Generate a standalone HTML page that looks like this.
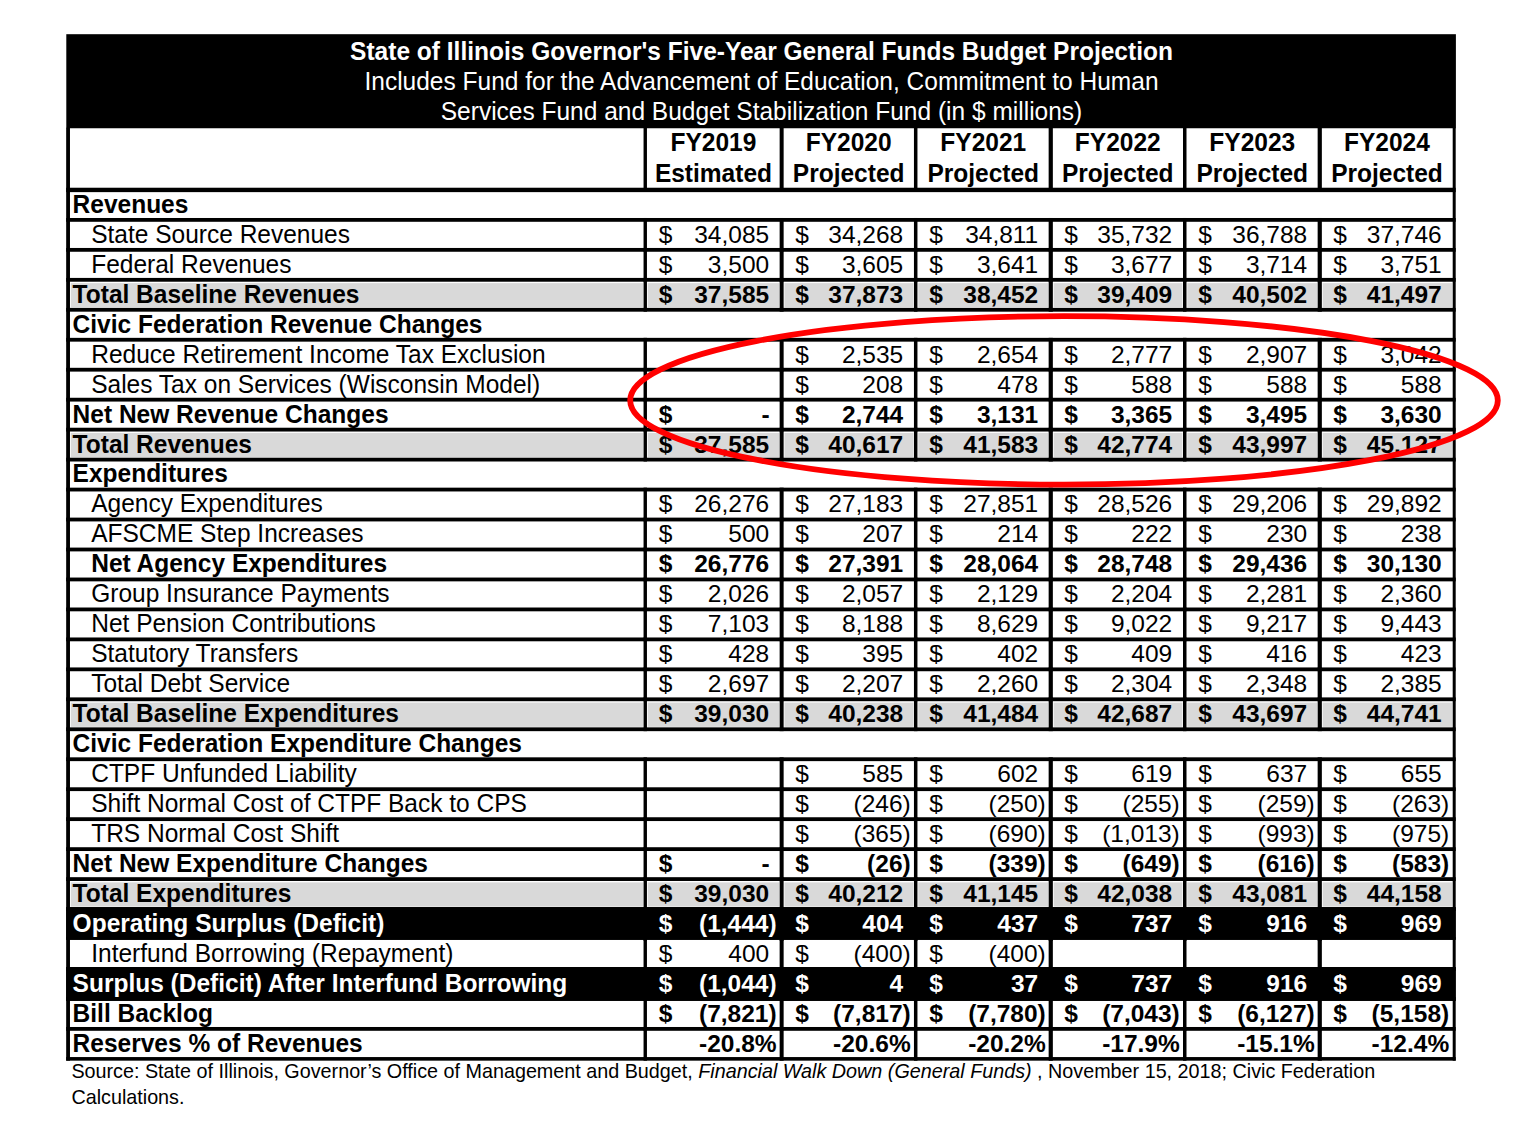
<!DOCTYPE html>
<html><head><meta charset="utf-8"><title>State of Illinois Governor's Five-Year General Funds Budget Projection</title>
<style>html,body{margin:0;padding:0;background:#fff;}body{width:1521px;height:1125px;overflow:hidden;}svg{display:block;}
text{font-family:"Liberation Sans",Arial,sans-serif;}</style></head>
<body>
<svg width="1521" height="1125" viewBox="0 0 1521 1125" font-family="Liberation Sans, Arial, sans-serif" font-size="24.52"><rect x="66.30" y="34.20" width="1389.60" height="94.05" fill="#000"/>
<rect x="643.55" y="127.75" width="3.40" height="60.78" fill="#000"/>
<rect x="779.64" y="127.75" width="4.00" height="60.78" fill="#000"/>
<rect x="913.95" y="127.75" width="3.50" height="60.78" fill="#000"/>
<rect x="1048.65" y="127.75" width="4.20" height="60.78" fill="#000"/>
<rect x="1183.00" y="127.75" width="3.50" height="60.78" fill="#000"/>
<rect x="1317.65" y="127.75" width="4.20" height="60.78" fill="#000"/>
<rect x="70.77" y="283.12" width="572.18" height="24.26" fill="#d9d9d9"/>
<rect x="647.75" y="283.12" width="131.29" height="24.26" fill="#d9d9d9"/>
<rect x="784.44" y="283.12" width="128.91" height="24.26" fill="#d9d9d9"/>
<rect x="918.25" y="283.12" width="129.80" height="24.26" fill="#d9d9d9"/>
<rect x="1053.65" y="283.12" width="128.75" height="24.26" fill="#d9d9d9"/>
<rect x="1187.30" y="283.12" width="129.75" height="24.26" fill="#d9d9d9"/>
<rect x="1322.65" y="283.12" width="129.45" height="24.26" fill="#d9d9d9"/>
<rect x="70.77" y="432.93" width="572.18" height="24.26" fill="#d9d9d9"/>
<rect x="647.75" y="432.93" width="131.29" height="24.26" fill="#d9d9d9"/>
<rect x="784.44" y="432.93" width="128.91" height="24.26" fill="#d9d9d9"/>
<rect x="918.25" y="432.93" width="129.80" height="24.26" fill="#d9d9d9"/>
<rect x="1053.65" y="432.93" width="128.75" height="24.26" fill="#d9d9d9"/>
<rect x="1187.30" y="432.93" width="129.75" height="24.26" fill="#d9d9d9"/>
<rect x="1322.65" y="432.93" width="129.45" height="24.26" fill="#d9d9d9"/>
<rect x="70.77" y="702.60" width="572.18" height="24.26" fill="#d9d9d9"/>
<rect x="647.75" y="702.60" width="131.29" height="24.26" fill="#d9d9d9"/>
<rect x="784.44" y="702.60" width="128.91" height="24.26" fill="#d9d9d9"/>
<rect x="918.25" y="702.60" width="129.80" height="24.26" fill="#d9d9d9"/>
<rect x="1053.65" y="702.60" width="128.75" height="24.26" fill="#d9d9d9"/>
<rect x="1187.30" y="702.60" width="129.75" height="24.26" fill="#d9d9d9"/>
<rect x="1322.65" y="702.60" width="129.45" height="24.26" fill="#d9d9d9"/>
<rect x="70.77" y="882.38" width="572.18" height="24.26" fill="#d9d9d9"/>
<rect x="647.75" y="882.38" width="131.29" height="24.26" fill="#d9d9d9"/>
<rect x="784.44" y="882.38" width="128.91" height="24.26" fill="#d9d9d9"/>
<rect x="918.25" y="882.38" width="129.80" height="24.26" fill="#d9d9d9"/>
<rect x="1053.65" y="882.38" width="128.75" height="24.26" fill="#d9d9d9"/>
<rect x="1187.30" y="882.38" width="129.75" height="24.26" fill="#d9d9d9"/>
<rect x="1322.65" y="882.38" width="129.45" height="24.26" fill="#d9d9d9"/>
<rect x="66.17" y="907.14" width="1389.53" height="32.66" fill="#000"/>
<rect x="66.17" y="967.07" width="1389.53" height="33.76" fill="#000"/>
<rect x="66.17" y="187.73" width="1389.53" height="4.40" fill="#000"/>
<rect x="66.17" y="217.99" width="1389.53" height="3.80" fill="#000"/>
<rect x="66.17" y="247.96" width="1389.53" height="3.80" fill="#000"/>
<rect x="66.17" y="277.92" width="1389.53" height="3.80" fill="#000"/>
<rect x="66.17" y="307.88" width="1389.53" height="3.80" fill="#000"/>
<rect x="66.17" y="337.85" width="1389.53" height="3.80" fill="#000"/>
<rect x="66.17" y="367.81" width="1389.53" height="3.80" fill="#000"/>
<rect x="66.17" y="397.77" width="1389.53" height="3.80" fill="#000"/>
<rect x="66.17" y="427.73" width="1389.53" height="3.80" fill="#000"/>
<rect x="66.17" y="457.70" width="1389.53" height="3.80" fill="#000"/>
<rect x="66.17" y="487.66" width="1389.53" height="3.80" fill="#000"/>
<rect x="66.17" y="517.62" width="1389.53" height="3.80" fill="#000"/>
<rect x="66.17" y="547.59" width="1389.53" height="3.80" fill="#000"/>
<rect x="66.17" y="577.55" width="1389.53" height="3.80" fill="#000"/>
<rect x="66.17" y="607.51" width="1389.53" height="3.80" fill="#000"/>
<rect x="66.17" y="637.48" width="1389.53" height="3.80" fill="#000"/>
<rect x="66.17" y="667.44" width="1389.53" height="3.80" fill="#000"/>
<rect x="66.17" y="697.40" width="1389.53" height="3.80" fill="#000"/>
<rect x="66.17" y="727.36" width="1389.53" height="3.80" fill="#000"/>
<rect x="66.17" y="757.33" width="1389.53" height="3.80" fill="#000"/>
<rect x="66.17" y="787.29" width="1389.53" height="3.80" fill="#000"/>
<rect x="66.17" y="817.25" width="1389.53" height="3.80" fill="#000"/>
<rect x="66.17" y="847.22" width="1389.53" height="3.80" fill="#000"/>
<rect x="66.17" y="877.18" width="1389.53" height="3.80" fill="#000"/>
<rect x="66.17" y="907.14" width="1389.53" height="3.80" fill="#000"/>
<rect x="66.17" y="937.00" width="1389.53" height="2.80" fill="#000"/>
<rect x="66.17" y="967.07" width="1389.53" height="3.80" fill="#000"/>
<rect x="66.17" y="997.03" width="1389.53" height="3.80" fill="#000"/>
<rect x="66.17" y="1026.99" width="1389.53" height="3.80" fill="#000"/>
<rect x="66.17" y="1057.06" width="1389.53" height="3.60" fill="#000"/>
<rect x="66.17" y="127.75" width="3.80" height="932.91" fill="#000"/>
<rect x="1452.70" y="127.75" width="3.00" height="932.91" fill="#000"/>
<rect x="643.55" y="217.99" width="3.40" height="33.76" fill="#000"/>
<rect x="779.64" y="217.99" width="4.00" height="33.76" fill="#000"/>
<rect x="913.95" y="217.99" width="3.50" height="33.76" fill="#000"/>
<rect x="1048.65" y="217.99" width="4.20" height="33.76" fill="#000"/>
<rect x="1183.00" y="217.99" width="3.50" height="33.76" fill="#000"/>
<rect x="1317.65" y="217.99" width="4.20" height="33.76" fill="#000"/>
<rect x="643.55" y="247.96" width="3.40" height="33.76" fill="#000"/>
<rect x="779.64" y="247.96" width="4.00" height="33.76" fill="#000"/>
<rect x="913.95" y="247.96" width="3.50" height="33.76" fill="#000"/>
<rect x="1048.65" y="247.96" width="4.20" height="33.76" fill="#000"/>
<rect x="1183.00" y="247.96" width="3.50" height="33.76" fill="#000"/>
<rect x="1317.65" y="247.96" width="4.20" height="33.76" fill="#000"/>
<rect x="643.55" y="277.92" width="3.40" height="33.76" fill="#000"/>
<rect x="779.64" y="277.92" width="4.00" height="33.76" fill="#000"/>
<rect x="913.95" y="277.92" width="3.50" height="33.76" fill="#000"/>
<rect x="1048.65" y="277.92" width="4.20" height="33.76" fill="#000"/>
<rect x="1183.00" y="277.92" width="3.50" height="33.76" fill="#000"/>
<rect x="1317.65" y="277.92" width="4.20" height="33.76" fill="#000"/>
<rect x="643.55" y="337.85" width="3.40" height="33.76" fill="#000"/>
<rect x="779.64" y="337.85" width="4.00" height="33.76" fill="#000"/>
<rect x="913.95" y="337.85" width="3.50" height="33.76" fill="#000"/>
<rect x="1048.65" y="337.85" width="4.20" height="33.76" fill="#000"/>
<rect x="1183.00" y="337.85" width="3.50" height="33.76" fill="#000"/>
<rect x="1317.65" y="337.85" width="4.20" height="33.76" fill="#000"/>
<rect x="643.55" y="367.81" width="3.40" height="33.76" fill="#000"/>
<rect x="779.64" y="367.81" width="4.00" height="33.76" fill="#000"/>
<rect x="913.95" y="367.81" width="3.50" height="33.76" fill="#000"/>
<rect x="1048.65" y="367.81" width="4.20" height="33.76" fill="#000"/>
<rect x="1183.00" y="367.81" width="3.50" height="33.76" fill="#000"/>
<rect x="1317.65" y="367.81" width="4.20" height="33.76" fill="#000"/>
<rect x="643.55" y="397.77" width="3.40" height="33.76" fill="#000"/>
<rect x="779.64" y="397.77" width="4.00" height="33.76" fill="#000"/>
<rect x="913.95" y="397.77" width="3.50" height="33.76" fill="#000"/>
<rect x="1048.65" y="397.77" width="4.20" height="33.76" fill="#000"/>
<rect x="1183.00" y="397.77" width="3.50" height="33.76" fill="#000"/>
<rect x="1317.65" y="397.77" width="4.20" height="33.76" fill="#000"/>
<rect x="643.55" y="427.73" width="3.40" height="33.76" fill="#000"/>
<rect x="779.64" y="427.73" width="4.00" height="33.76" fill="#000"/>
<rect x="913.95" y="427.73" width="3.50" height="33.76" fill="#000"/>
<rect x="1048.65" y="427.73" width="4.20" height="33.76" fill="#000"/>
<rect x="1183.00" y="427.73" width="3.50" height="33.76" fill="#000"/>
<rect x="1317.65" y="427.73" width="4.20" height="33.76" fill="#000"/>
<rect x="643.55" y="487.66" width="3.40" height="33.76" fill="#000"/>
<rect x="779.64" y="487.66" width="4.00" height="33.76" fill="#000"/>
<rect x="913.95" y="487.66" width="3.50" height="33.76" fill="#000"/>
<rect x="1048.65" y="487.66" width="4.20" height="33.76" fill="#000"/>
<rect x="1183.00" y="487.66" width="3.50" height="33.76" fill="#000"/>
<rect x="1317.65" y="487.66" width="4.20" height="33.76" fill="#000"/>
<rect x="643.55" y="517.62" width="3.40" height="33.76" fill="#000"/>
<rect x="779.64" y="517.62" width="4.00" height="33.76" fill="#000"/>
<rect x="913.95" y="517.62" width="3.50" height="33.76" fill="#000"/>
<rect x="1048.65" y="517.62" width="4.20" height="33.76" fill="#000"/>
<rect x="1183.00" y="517.62" width="3.50" height="33.76" fill="#000"/>
<rect x="1317.65" y="517.62" width="4.20" height="33.76" fill="#000"/>
<rect x="643.55" y="547.59" width="3.40" height="33.76" fill="#000"/>
<rect x="779.64" y="547.59" width="4.00" height="33.76" fill="#000"/>
<rect x="913.95" y="547.59" width="3.50" height="33.76" fill="#000"/>
<rect x="1048.65" y="547.59" width="4.20" height="33.76" fill="#000"/>
<rect x="1183.00" y="547.59" width="3.50" height="33.76" fill="#000"/>
<rect x="1317.65" y="547.59" width="4.20" height="33.76" fill="#000"/>
<rect x="643.55" y="577.55" width="3.40" height="33.76" fill="#000"/>
<rect x="779.64" y="577.55" width="4.00" height="33.76" fill="#000"/>
<rect x="913.95" y="577.55" width="3.50" height="33.76" fill="#000"/>
<rect x="1048.65" y="577.55" width="4.20" height="33.76" fill="#000"/>
<rect x="1183.00" y="577.55" width="3.50" height="33.76" fill="#000"/>
<rect x="1317.65" y="577.55" width="4.20" height="33.76" fill="#000"/>
<rect x="643.55" y="607.51" width="3.40" height="33.76" fill="#000"/>
<rect x="779.64" y="607.51" width="4.00" height="33.76" fill="#000"/>
<rect x="913.95" y="607.51" width="3.50" height="33.76" fill="#000"/>
<rect x="1048.65" y="607.51" width="4.20" height="33.76" fill="#000"/>
<rect x="1183.00" y="607.51" width="3.50" height="33.76" fill="#000"/>
<rect x="1317.65" y="607.51" width="4.20" height="33.76" fill="#000"/>
<rect x="643.55" y="637.48" width="3.40" height="33.76" fill="#000"/>
<rect x="779.64" y="637.48" width="4.00" height="33.76" fill="#000"/>
<rect x="913.95" y="637.48" width="3.50" height="33.76" fill="#000"/>
<rect x="1048.65" y="637.48" width="4.20" height="33.76" fill="#000"/>
<rect x="1183.00" y="637.48" width="3.50" height="33.76" fill="#000"/>
<rect x="1317.65" y="637.48" width="4.20" height="33.76" fill="#000"/>
<rect x="643.55" y="667.44" width="3.40" height="33.76" fill="#000"/>
<rect x="779.64" y="667.44" width="4.00" height="33.76" fill="#000"/>
<rect x="913.95" y="667.44" width="3.50" height="33.76" fill="#000"/>
<rect x="1048.65" y="667.44" width="4.20" height="33.76" fill="#000"/>
<rect x="1183.00" y="667.44" width="3.50" height="33.76" fill="#000"/>
<rect x="1317.65" y="667.44" width="4.20" height="33.76" fill="#000"/>
<rect x="643.55" y="697.40" width="3.40" height="33.76" fill="#000"/>
<rect x="779.64" y="697.40" width="4.00" height="33.76" fill="#000"/>
<rect x="913.95" y="697.40" width="3.50" height="33.76" fill="#000"/>
<rect x="1048.65" y="697.40" width="4.20" height="33.76" fill="#000"/>
<rect x="1183.00" y="697.40" width="3.50" height="33.76" fill="#000"/>
<rect x="1317.65" y="697.40" width="4.20" height="33.76" fill="#000"/>
<rect x="643.55" y="757.33" width="3.40" height="33.76" fill="#000"/>
<rect x="779.64" y="757.33" width="4.00" height="33.76" fill="#000"/>
<rect x="913.95" y="757.33" width="3.50" height="33.76" fill="#000"/>
<rect x="1048.65" y="757.33" width="4.20" height="33.76" fill="#000"/>
<rect x="1183.00" y="757.33" width="3.50" height="33.76" fill="#000"/>
<rect x="1317.65" y="757.33" width="4.20" height="33.76" fill="#000"/>
<rect x="643.55" y="787.29" width="3.40" height="33.76" fill="#000"/>
<rect x="779.64" y="787.29" width="4.00" height="33.76" fill="#000"/>
<rect x="913.95" y="787.29" width="3.50" height="33.76" fill="#000"/>
<rect x="1048.65" y="787.29" width="4.20" height="33.76" fill="#000"/>
<rect x="1183.00" y="787.29" width="3.50" height="33.76" fill="#000"/>
<rect x="1317.65" y="787.29" width="4.20" height="33.76" fill="#000"/>
<rect x="643.55" y="817.25" width="3.40" height="33.76" fill="#000"/>
<rect x="779.64" y="817.25" width="4.00" height="33.76" fill="#000"/>
<rect x="913.95" y="817.25" width="3.50" height="33.76" fill="#000"/>
<rect x="1048.65" y="817.25" width="4.20" height="33.76" fill="#000"/>
<rect x="1183.00" y="817.25" width="3.50" height="33.76" fill="#000"/>
<rect x="1317.65" y="817.25" width="4.20" height="33.76" fill="#000"/>
<rect x="643.55" y="847.22" width="3.40" height="33.76" fill="#000"/>
<rect x="779.64" y="847.22" width="4.00" height="33.76" fill="#000"/>
<rect x="913.95" y="847.22" width="3.50" height="33.76" fill="#000"/>
<rect x="1048.65" y="847.22" width="4.20" height="33.76" fill="#000"/>
<rect x="1183.00" y="847.22" width="3.50" height="33.76" fill="#000"/>
<rect x="1317.65" y="847.22" width="4.20" height="33.76" fill="#000"/>
<rect x="643.55" y="877.18" width="3.40" height="33.76" fill="#000"/>
<rect x="779.64" y="877.18" width="4.00" height="33.76" fill="#000"/>
<rect x="913.95" y="877.18" width="3.50" height="33.76" fill="#000"/>
<rect x="1048.65" y="877.18" width="4.20" height="33.76" fill="#000"/>
<rect x="1183.00" y="877.18" width="3.50" height="33.76" fill="#000"/>
<rect x="1317.65" y="877.18" width="4.20" height="33.76" fill="#000"/>
<rect x="643.55" y="907.14" width="3.40" height="33.76" fill="#000"/>
<rect x="779.64" y="907.14" width="4.00" height="33.76" fill="#000"/>
<rect x="913.95" y="907.14" width="3.50" height="33.76" fill="#000"/>
<rect x="1048.65" y="907.14" width="4.20" height="33.76" fill="#000"/>
<rect x="1183.00" y="907.14" width="3.50" height="33.76" fill="#000"/>
<rect x="1317.65" y="907.14" width="4.20" height="33.76" fill="#000"/>
<rect x="643.55" y="937.11" width="3.40" height="33.76" fill="#000"/>
<rect x="779.64" y="937.11" width="4.00" height="33.76" fill="#000"/>
<rect x="913.95" y="937.11" width="3.50" height="33.76" fill="#000"/>
<rect x="1048.65" y="937.11" width="4.20" height="33.76" fill="#000"/>
<rect x="1183.00" y="937.11" width="3.50" height="33.76" fill="#000"/>
<rect x="1317.65" y="937.11" width="4.20" height="33.76" fill="#000"/>
<rect x="643.55" y="967.07" width="3.40" height="33.76" fill="#000"/>
<rect x="779.64" y="967.07" width="4.00" height="33.76" fill="#000"/>
<rect x="913.95" y="967.07" width="3.50" height="33.76" fill="#000"/>
<rect x="1048.65" y="967.07" width="4.20" height="33.76" fill="#000"/>
<rect x="1183.00" y="967.07" width="3.50" height="33.76" fill="#000"/>
<rect x="1317.65" y="967.07" width="4.20" height="33.76" fill="#000"/>
<rect x="643.55" y="997.03" width="3.40" height="33.76" fill="#000"/>
<rect x="779.64" y="997.03" width="4.00" height="33.76" fill="#000"/>
<rect x="913.95" y="997.03" width="3.50" height="33.76" fill="#000"/>
<rect x="1048.65" y="997.03" width="4.20" height="33.76" fill="#000"/>
<rect x="1183.00" y="997.03" width="3.50" height="33.76" fill="#000"/>
<rect x="1317.65" y="997.03" width="4.20" height="33.76" fill="#000"/>
<rect x="643.55" y="1026.99" width="3.40" height="33.76" fill="#000"/>
<rect x="779.64" y="1026.99" width="4.00" height="33.76" fill="#000"/>
<rect x="913.95" y="1026.99" width="3.50" height="33.76" fill="#000"/>
<rect x="1048.65" y="1026.99" width="4.20" height="33.76" fill="#000"/>
<rect x="1183.00" y="1026.99" width="3.50" height="33.76" fill="#000"/>
<rect x="1317.65" y="1026.99" width="4.20" height="33.76" fill="#000"/>
<text transform="matrix(1 0 0 1.015 761.50 60.00)" font-weight="bold" text-anchor="middle" fill="#fff">State of Illinois Governor's Five-Year General Funds Budget Projection</text>
<text transform="matrix(1 0 0 1.015 761.50 90.00)" text-anchor="middle" fill="#fff">Includes Fund for the Advancement of Education, Commitment to Human</text>
<text transform="matrix(1 0 0 1.015 761.50 120.00)" text-anchor="middle" fill="#fff">Services Fund and Budget Stabilization Fund (in $ millions)</text>
<text transform="matrix(1 0 0 1.015 713.44 151.00)" font-weight="bold" text-anchor="middle">FY2019</text>
<text transform="matrix(1 0 0 1.015 713.44 182.00)" font-weight="bold" text-anchor="middle">Estimated</text>
<text transform="matrix(1 0 0 1.015 848.67 151.00)" font-weight="bold" text-anchor="middle">FY2020</text>
<text transform="matrix(1 0 0 1.015 848.67 182.00)" font-weight="bold" text-anchor="middle">Projected</text>
<text transform="matrix(1 0 0 1.015 983.23 151.00)" font-weight="bold" text-anchor="middle">FY2021</text>
<text transform="matrix(1 0 0 1.015 983.23 182.00)" font-weight="bold" text-anchor="middle">Projected</text>
<text transform="matrix(1 0 0 1.015 1117.75 151.00)" font-weight="bold" text-anchor="middle">FY2022</text>
<text transform="matrix(1 0 0 1.015 1117.75 182.00)" font-weight="bold" text-anchor="middle">Projected</text>
<text transform="matrix(1 0 0 1.015 1252.25 151.00)" font-weight="bold" text-anchor="middle">FY2023</text>
<text transform="matrix(1 0 0 1.015 1252.25 182.00)" font-weight="bold" text-anchor="middle">Projected</text>
<text transform="matrix(1 0 0 1.015 1386.97 151.00)" font-weight="bold" text-anchor="middle">FY2024</text>
<text transform="matrix(1 0 0 1.015 1386.97 182.00)" font-weight="bold" text-anchor="middle">Projected</text>
<text transform="matrix(1 0 0 1.015 72.60 213.00)" font-weight="bold">Revenues</text>
<text transform="matrix(1 0 0 1.015 91.20 243.00)" >State Source Revenues</text>
<text transform="matrix(1 0 0 0.99 658.85 243.00)" >$</text>
<text transform="matrix(1 0 0 0.99 769.14 243.00)" text-anchor="end">34,085</text>
<text transform="matrix(1 0 0 0.99 795.24 243.00)" >$</text>
<text transform="matrix(1 0 0 0.99 903.20 243.00)" text-anchor="end">34,268</text>
<text transform="matrix(1 0 0 0.99 929.30 243.00)" >$</text>
<text transform="matrix(1 0 0 0.99 1038.25 243.00)" text-anchor="end">34,811</text>
<text transform="matrix(1 0 0 0.99 1064.35 243.00)" >$</text>
<text transform="matrix(1 0 0 0.99 1172.25 243.00)" text-anchor="end">35,732</text>
<text transform="matrix(1 0 0 0.99 1198.35 243.00)" >$</text>
<text transform="matrix(1 0 0 0.99 1307.25 243.00)" text-anchor="end">36,788</text>
<text transform="matrix(1 0 0 0.99 1333.35 243.00)" >$</text>
<text transform="matrix(1 0 0 0.99 1441.70 243.00)" text-anchor="end">37,746</text>
<text transform="matrix(1 0 0 1.015 91.20 273.00)" >Federal Revenues</text>
<text transform="matrix(1 0 0 0.99 658.85 273.00)" >$</text>
<text transform="matrix(1 0 0 0.99 769.14 273.00)" text-anchor="end">3,500</text>
<text transform="matrix(1 0 0 0.99 795.24 273.00)" >$</text>
<text transform="matrix(1 0 0 0.99 903.20 273.00)" text-anchor="end">3,605</text>
<text transform="matrix(1 0 0 0.99 929.30 273.00)" >$</text>
<text transform="matrix(1 0 0 0.99 1038.25 273.00)" text-anchor="end">3,641</text>
<text transform="matrix(1 0 0 0.99 1064.35 273.00)" >$</text>
<text transform="matrix(1 0 0 0.99 1172.25 273.00)" text-anchor="end">3,677</text>
<text transform="matrix(1 0 0 0.99 1198.35 273.00)" >$</text>
<text transform="matrix(1 0 0 0.99 1307.25 273.00)" text-anchor="end">3,714</text>
<text transform="matrix(1 0 0 0.99 1333.35 273.00)" >$</text>
<text transform="matrix(1 0 0 0.99 1441.70 273.00)" text-anchor="end">3,751</text>
<text transform="matrix(1 0 0 1.015 72.60 303.00)" font-weight="bold">Total Baseline Revenues</text>
<text transform="matrix(1 0 0 0.99 658.85 303.00)" font-weight="bold">$</text>
<text transform="matrix(1 0 0 0.99 769.14 303.00)" font-weight="bold" text-anchor="end">37,585</text>
<text transform="matrix(1 0 0 0.99 795.24 303.00)" font-weight="bold">$</text>
<text transform="matrix(1 0 0 0.99 903.20 303.00)" font-weight="bold" text-anchor="end">37,873</text>
<text transform="matrix(1 0 0 0.99 929.30 303.00)" font-weight="bold">$</text>
<text transform="matrix(1 0 0 0.99 1038.25 303.00)" font-weight="bold" text-anchor="end">38,452</text>
<text transform="matrix(1 0 0 0.99 1064.35 303.00)" font-weight="bold">$</text>
<text transform="matrix(1 0 0 0.99 1172.25 303.00)" font-weight="bold" text-anchor="end">39,409</text>
<text transform="matrix(1 0 0 0.99 1198.35 303.00)" font-weight="bold">$</text>
<text transform="matrix(1 0 0 0.99 1307.25 303.00)" font-weight="bold" text-anchor="end">40,502</text>
<text transform="matrix(1 0 0 0.99 1333.35 303.00)" font-weight="bold">$</text>
<text transform="matrix(1 0 0 0.99 1441.70 303.00)" font-weight="bold" text-anchor="end">41,497</text>
<text transform="matrix(1 0 0 1.015 72.60 333.00)" font-weight="bold">Civic Federation Revenue Changes</text>
<text transform="matrix(1 0 0 1.015 91.20 363.00)" >Reduce Retirement Income Tax Exclusion</text>
<text transform="matrix(1 0 0 0.99 795.24 363.00)" >$</text>
<text transform="matrix(1 0 0 0.99 903.20 363.00)" text-anchor="end">2,535</text>
<text transform="matrix(1 0 0 0.99 929.30 363.00)" >$</text>
<text transform="matrix(1 0 0 0.99 1038.25 363.00)" text-anchor="end">2,654</text>
<text transform="matrix(1 0 0 0.99 1064.35 363.00)" >$</text>
<text transform="matrix(1 0 0 0.99 1172.25 363.00)" text-anchor="end">2,777</text>
<text transform="matrix(1 0 0 0.99 1198.35 363.00)" >$</text>
<text transform="matrix(1 0 0 0.99 1307.25 363.00)" text-anchor="end">2,907</text>
<text transform="matrix(1 0 0 0.99 1333.35 363.00)" >$</text>
<text transform="matrix(1 0 0 0.99 1441.70 363.00)" text-anchor="end">3,042</text>
<text transform="matrix(1 0 0 1.015 91.20 393.00)" >Sales Tax on Services (Wisconsin Model)</text>
<text transform="matrix(1 0 0 0.99 795.24 393.00)" >$</text>
<text transform="matrix(1 0 0 0.99 903.20 393.00)" text-anchor="end">208</text>
<text transform="matrix(1 0 0 0.99 929.30 393.00)" >$</text>
<text transform="matrix(1 0 0 0.99 1038.25 393.00)" text-anchor="end">478</text>
<text transform="matrix(1 0 0 0.99 1064.35 393.00)" >$</text>
<text transform="matrix(1 0 0 0.99 1172.25 393.00)" text-anchor="end">588</text>
<text transform="matrix(1 0 0 0.99 1198.35 393.00)" >$</text>
<text transform="matrix(1 0 0 0.99 1307.25 393.00)" text-anchor="end">588</text>
<text transform="matrix(1 0 0 0.99 1333.35 393.00)" >$</text>
<text transform="matrix(1 0 0 0.99 1441.70 393.00)" text-anchor="end">588</text>
<text transform="matrix(1 0 0 1.015 72.60 423.00)" font-weight="bold">Net New Revenue Changes</text>
<text transform="matrix(1 0 0 0.99 658.85 423.00)" font-weight="bold">$</text>
<text transform="matrix(1 0 0 0.99 769.64 423.00)" font-weight="bold" text-anchor="end">-</text>
<text transform="matrix(1 0 0 0.99 795.24 423.00)" font-weight="bold">$</text>
<text transform="matrix(1 0 0 0.99 903.20 423.00)" font-weight="bold" text-anchor="end">2,744</text>
<text transform="matrix(1 0 0 0.99 929.30 423.00)" font-weight="bold">$</text>
<text transform="matrix(1 0 0 0.99 1038.25 423.00)" font-weight="bold" text-anchor="end">3,131</text>
<text transform="matrix(1 0 0 0.99 1064.35 423.00)" font-weight="bold">$</text>
<text transform="matrix(1 0 0 0.99 1172.25 423.00)" font-weight="bold" text-anchor="end">3,365</text>
<text transform="matrix(1 0 0 0.99 1198.35 423.00)" font-weight="bold">$</text>
<text transform="matrix(1 0 0 0.99 1307.25 423.00)" font-weight="bold" text-anchor="end">3,495</text>
<text transform="matrix(1 0 0 0.99 1333.35 423.00)" font-weight="bold">$</text>
<text transform="matrix(1 0 0 0.99 1441.70 423.00)" font-weight="bold" text-anchor="end">3,630</text>
<text transform="matrix(1 0 0 1.015 72.60 453.00)" font-weight="bold">Total Revenues</text>
<text transform="matrix(1 0 0 0.99 658.85 453.00)" font-weight="bold">$</text>
<text transform="matrix(1 0 0 0.99 769.14 453.00)" font-weight="bold" text-anchor="end">37,585</text>
<text transform="matrix(1 0 0 0.99 795.24 453.00)" font-weight="bold">$</text>
<text transform="matrix(1 0 0 0.99 903.20 453.00)" font-weight="bold" text-anchor="end">40,617</text>
<text transform="matrix(1 0 0 0.99 929.30 453.00)" font-weight="bold">$</text>
<text transform="matrix(1 0 0 0.99 1038.25 453.00)" font-weight="bold" text-anchor="end">41,583</text>
<text transform="matrix(1 0 0 0.99 1064.35 453.00)" font-weight="bold">$</text>
<text transform="matrix(1 0 0 0.99 1172.25 453.00)" font-weight="bold" text-anchor="end">42,774</text>
<text transform="matrix(1 0 0 0.99 1198.35 453.00)" font-weight="bold">$</text>
<text transform="matrix(1 0 0 0.99 1307.25 453.00)" font-weight="bold" text-anchor="end">43,997</text>
<text transform="matrix(1 0 0 0.99 1333.35 453.00)" font-weight="bold">$</text>
<text transform="matrix(1 0 0 0.99 1441.70 453.00)" font-weight="bold" text-anchor="end">45,127</text>
<text transform="matrix(1 0 0 1.015 72.60 482.00)" font-weight="bold">Expenditures</text>
<text transform="matrix(1 0 0 1.015 91.20 512.00)" >Agency Expenditures</text>
<text transform="matrix(1 0 0 0.99 658.85 512.00)" >$</text>
<text transform="matrix(1 0 0 0.99 769.14 512.00)" text-anchor="end">26,276</text>
<text transform="matrix(1 0 0 0.99 795.24 512.00)" >$</text>
<text transform="matrix(1 0 0 0.99 903.20 512.00)" text-anchor="end">27,183</text>
<text transform="matrix(1 0 0 0.99 929.30 512.00)" >$</text>
<text transform="matrix(1 0 0 0.99 1038.25 512.00)" text-anchor="end">27,851</text>
<text transform="matrix(1 0 0 0.99 1064.35 512.00)" >$</text>
<text transform="matrix(1 0 0 0.99 1172.25 512.00)" text-anchor="end">28,526</text>
<text transform="matrix(1 0 0 0.99 1198.35 512.00)" >$</text>
<text transform="matrix(1 0 0 0.99 1307.25 512.00)" text-anchor="end">29,206</text>
<text transform="matrix(1 0 0 0.99 1333.35 512.00)" >$</text>
<text transform="matrix(1 0 0 0.99 1441.70 512.00)" text-anchor="end">29,892</text>
<text transform="matrix(1 0 0 1.015 91.20 542.00)" >AFSCME Step Increases</text>
<text transform="matrix(1 0 0 0.99 658.85 542.00)" >$</text>
<text transform="matrix(1 0 0 0.99 769.14 542.00)" text-anchor="end">500</text>
<text transform="matrix(1 0 0 0.99 795.24 542.00)" >$</text>
<text transform="matrix(1 0 0 0.99 903.20 542.00)" text-anchor="end">207</text>
<text transform="matrix(1 0 0 0.99 929.30 542.00)" >$</text>
<text transform="matrix(1 0 0 0.99 1038.25 542.00)" text-anchor="end">214</text>
<text transform="matrix(1 0 0 0.99 1064.35 542.00)" >$</text>
<text transform="matrix(1 0 0 0.99 1172.25 542.00)" text-anchor="end">222</text>
<text transform="matrix(1 0 0 0.99 1198.35 542.00)" >$</text>
<text transform="matrix(1 0 0 0.99 1307.25 542.00)" text-anchor="end">230</text>
<text transform="matrix(1 0 0 0.99 1333.35 542.00)" >$</text>
<text transform="matrix(1 0 0 0.99 1441.70 542.00)" text-anchor="end">238</text>
<text transform="matrix(1 0 0 1.015 91.20 572.00)" font-weight="bold">Net Agency Expenditures</text>
<text transform="matrix(1 0 0 0.99 658.85 572.00)" font-weight="bold">$</text>
<text transform="matrix(1 0 0 0.99 769.14 572.00)" font-weight="bold" text-anchor="end">26,776</text>
<text transform="matrix(1 0 0 0.99 795.24 572.00)" font-weight="bold">$</text>
<text transform="matrix(1 0 0 0.99 903.20 572.00)" font-weight="bold" text-anchor="end">27,391</text>
<text transform="matrix(1 0 0 0.99 929.30 572.00)" font-weight="bold">$</text>
<text transform="matrix(1 0 0 0.99 1038.25 572.00)" font-weight="bold" text-anchor="end">28,064</text>
<text transform="matrix(1 0 0 0.99 1064.35 572.00)" font-weight="bold">$</text>
<text transform="matrix(1 0 0 0.99 1172.25 572.00)" font-weight="bold" text-anchor="end">28,748</text>
<text transform="matrix(1 0 0 0.99 1198.35 572.00)" font-weight="bold">$</text>
<text transform="matrix(1 0 0 0.99 1307.25 572.00)" font-weight="bold" text-anchor="end">29,436</text>
<text transform="matrix(1 0 0 0.99 1333.35 572.00)" font-weight="bold">$</text>
<text transform="matrix(1 0 0 0.99 1441.70 572.00)" font-weight="bold" text-anchor="end">30,130</text>
<text transform="matrix(1 0 0 1.015 91.20 602.00)" >Group Insurance Payments</text>
<text transform="matrix(1 0 0 0.99 658.85 602.00)" >$</text>
<text transform="matrix(1 0 0 0.99 769.14 602.00)" text-anchor="end">2,026</text>
<text transform="matrix(1 0 0 0.99 795.24 602.00)" >$</text>
<text transform="matrix(1 0 0 0.99 903.20 602.00)" text-anchor="end">2,057</text>
<text transform="matrix(1 0 0 0.99 929.30 602.00)" >$</text>
<text transform="matrix(1 0 0 0.99 1038.25 602.00)" text-anchor="end">2,129</text>
<text transform="matrix(1 0 0 0.99 1064.35 602.00)" >$</text>
<text transform="matrix(1 0 0 0.99 1172.25 602.00)" text-anchor="end">2,204</text>
<text transform="matrix(1 0 0 0.99 1198.35 602.00)" >$</text>
<text transform="matrix(1 0 0 0.99 1307.25 602.00)" text-anchor="end">2,281</text>
<text transform="matrix(1 0 0 0.99 1333.35 602.00)" >$</text>
<text transform="matrix(1 0 0 0.99 1441.70 602.00)" text-anchor="end">2,360</text>
<text transform="matrix(1 0 0 1.015 91.20 632.00)" >Net Pension Contributions</text>
<text transform="matrix(1 0 0 0.99 658.85 632.00)" >$</text>
<text transform="matrix(1 0 0 0.99 769.14 632.00)" text-anchor="end">7,103</text>
<text transform="matrix(1 0 0 0.99 795.24 632.00)" >$</text>
<text transform="matrix(1 0 0 0.99 903.20 632.00)" text-anchor="end">8,188</text>
<text transform="matrix(1 0 0 0.99 929.30 632.00)" >$</text>
<text transform="matrix(1 0 0 0.99 1038.25 632.00)" text-anchor="end">8,629</text>
<text transform="matrix(1 0 0 0.99 1064.35 632.00)" >$</text>
<text transform="matrix(1 0 0 0.99 1172.25 632.00)" text-anchor="end">9,022</text>
<text transform="matrix(1 0 0 0.99 1198.35 632.00)" >$</text>
<text transform="matrix(1 0 0 0.99 1307.25 632.00)" text-anchor="end">9,217</text>
<text transform="matrix(1 0 0 0.99 1333.35 632.00)" >$</text>
<text transform="matrix(1 0 0 0.99 1441.70 632.00)" text-anchor="end">9,443</text>
<text transform="matrix(1 0 0 1.015 91.20 662.00)" >Statutory Transfers</text>
<text transform="matrix(1 0 0 0.99 658.85 662.00)" >$</text>
<text transform="matrix(1 0 0 0.99 769.14 662.00)" text-anchor="end">428</text>
<text transform="matrix(1 0 0 0.99 795.24 662.00)" >$</text>
<text transform="matrix(1 0 0 0.99 903.20 662.00)" text-anchor="end">395</text>
<text transform="matrix(1 0 0 0.99 929.30 662.00)" >$</text>
<text transform="matrix(1 0 0 0.99 1038.25 662.00)" text-anchor="end">402</text>
<text transform="matrix(1 0 0 0.99 1064.35 662.00)" >$</text>
<text transform="matrix(1 0 0 0.99 1172.25 662.00)" text-anchor="end">409</text>
<text transform="matrix(1 0 0 0.99 1198.35 662.00)" >$</text>
<text transform="matrix(1 0 0 0.99 1307.25 662.00)" text-anchor="end">416</text>
<text transform="matrix(1 0 0 0.99 1333.35 662.00)" >$</text>
<text transform="matrix(1 0 0 0.99 1441.70 662.00)" text-anchor="end">423</text>
<text transform="matrix(1 0 0 1.015 91.20 692.00)" >Total Debt Service</text>
<text transform="matrix(1 0 0 0.99 658.85 692.00)" >$</text>
<text transform="matrix(1 0 0 0.99 769.14 692.00)" text-anchor="end">2,697</text>
<text transform="matrix(1 0 0 0.99 795.24 692.00)" >$</text>
<text transform="matrix(1 0 0 0.99 903.20 692.00)" text-anchor="end">2,207</text>
<text transform="matrix(1 0 0 0.99 929.30 692.00)" >$</text>
<text transform="matrix(1 0 0 0.99 1038.25 692.00)" text-anchor="end">2,260</text>
<text transform="matrix(1 0 0 0.99 1064.35 692.00)" >$</text>
<text transform="matrix(1 0 0 0.99 1172.25 692.00)" text-anchor="end">2,304</text>
<text transform="matrix(1 0 0 0.99 1198.35 692.00)" >$</text>
<text transform="matrix(1 0 0 0.99 1307.25 692.00)" text-anchor="end">2,348</text>
<text transform="matrix(1 0 0 0.99 1333.35 692.00)" >$</text>
<text transform="matrix(1 0 0 0.99 1441.70 692.00)" text-anchor="end">2,385</text>
<text transform="matrix(1 0 0 1.015 72.60 722.00)" font-weight="bold">Total Baseline Expenditures</text>
<text transform="matrix(1 0 0 0.99 658.85 722.00)" font-weight="bold">$</text>
<text transform="matrix(1 0 0 0.99 769.14 722.00)" font-weight="bold" text-anchor="end">39,030</text>
<text transform="matrix(1 0 0 0.99 795.24 722.00)" font-weight="bold">$</text>
<text transform="matrix(1 0 0 0.99 903.20 722.00)" font-weight="bold" text-anchor="end">40,238</text>
<text transform="matrix(1 0 0 0.99 929.30 722.00)" font-weight="bold">$</text>
<text transform="matrix(1 0 0 0.99 1038.25 722.00)" font-weight="bold" text-anchor="end">41,484</text>
<text transform="matrix(1 0 0 0.99 1064.35 722.00)" font-weight="bold">$</text>
<text transform="matrix(1 0 0 0.99 1172.25 722.00)" font-weight="bold" text-anchor="end">42,687</text>
<text transform="matrix(1 0 0 0.99 1198.35 722.00)" font-weight="bold">$</text>
<text transform="matrix(1 0 0 0.99 1307.25 722.00)" font-weight="bold" text-anchor="end">43,697</text>
<text transform="matrix(1 0 0 0.99 1333.35 722.00)" font-weight="bold">$</text>
<text transform="matrix(1 0 0 0.99 1441.70 722.00)" font-weight="bold" text-anchor="end">44,741</text>
<text transform="matrix(1 0 0 1.015 72.60 752.00)" font-weight="bold">Civic Federation Expenditure Changes</text>
<text transform="matrix(1 0 0 1.015 91.20 782.00)" >CTPF Unfunded Liability</text>
<text transform="matrix(1 0 0 0.99 795.24 782.00)" >$</text>
<text transform="matrix(1 0 0 0.99 903.20 782.00)" text-anchor="end">585</text>
<text transform="matrix(1 0 0 0.99 929.30 782.00)" >$</text>
<text transform="matrix(1 0 0 0.99 1038.25 782.00)" text-anchor="end">602</text>
<text transform="matrix(1 0 0 0.99 1064.35 782.00)" >$</text>
<text transform="matrix(1 0 0 0.99 1172.25 782.00)" text-anchor="end">619</text>
<text transform="matrix(1 0 0 0.99 1198.35 782.00)" >$</text>
<text transform="matrix(1 0 0 0.99 1307.25 782.00)" text-anchor="end">637</text>
<text transform="matrix(1 0 0 0.99 1333.35 782.00)" >$</text>
<text transform="matrix(1 0 0 0.99 1441.70 782.00)" text-anchor="end">655</text>
<text transform="matrix(1 0 0 1.015 91.20 812.00)" >Shift Normal Cost of CTPF Back to CPS</text>
<text transform="matrix(1 0 0 0.99 795.24 812.00)" >$</text>
<text transform="matrix(1 0 0 0.99 910.70 812.00)" text-anchor="end">(246)</text>
<text transform="matrix(1 0 0 0.99 929.30 812.00)" >$</text>
<text transform="matrix(1 0 0 0.99 1045.75 812.00)" text-anchor="end">(250)</text>
<text transform="matrix(1 0 0 0.99 1064.35 812.00)" >$</text>
<text transform="matrix(1 0 0 0.99 1179.75 812.00)" text-anchor="end">(255)</text>
<text transform="matrix(1 0 0 0.99 1198.35 812.00)" >$</text>
<text transform="matrix(1 0 0 0.99 1314.75 812.00)" text-anchor="end">(259)</text>
<text transform="matrix(1 0 0 0.99 1333.35 812.00)" >$</text>
<text transform="matrix(1 0 0 0.99 1449.20 812.00)" text-anchor="end">(263)</text>
<text transform="matrix(1 0 0 1.015 91.20 842.00)" >TRS Normal Cost Shift</text>
<text transform="matrix(1 0 0 0.99 795.24 842.00)" >$</text>
<text transform="matrix(1 0 0 0.99 910.70 842.00)" text-anchor="end">(365)</text>
<text transform="matrix(1 0 0 0.99 929.30 842.00)" >$</text>
<text transform="matrix(1 0 0 0.99 1045.75 842.00)" text-anchor="end">(690)</text>
<text transform="matrix(1 0 0 0.99 1064.35 842.00)" >$</text>
<text transform="matrix(1 0 0 0.99 1179.75 842.00)" text-anchor="end">(1,013)</text>
<text transform="matrix(1 0 0 0.99 1198.35 842.00)" >$</text>
<text transform="matrix(1 0 0 0.99 1314.75 842.00)" text-anchor="end">(993)</text>
<text transform="matrix(1 0 0 0.99 1333.35 842.00)" >$</text>
<text transform="matrix(1 0 0 0.99 1449.20 842.00)" text-anchor="end">(975)</text>
<text transform="matrix(1 0 0 1.015 72.60 872.00)" font-weight="bold">Net New Expenditure Changes</text>
<text transform="matrix(1 0 0 0.99 658.85 872.00)" font-weight="bold">$</text>
<text transform="matrix(1 0 0 0.99 769.64 872.00)" font-weight="bold" text-anchor="end">-</text>
<text transform="matrix(1 0 0 0.99 795.24 872.00)" font-weight="bold">$</text>
<text transform="matrix(1 0 0 0.99 910.70 872.00)" font-weight="bold" text-anchor="end">(26)</text>
<text transform="matrix(1 0 0 0.99 929.30 872.00)" font-weight="bold">$</text>
<text transform="matrix(1 0 0 0.99 1045.75 872.00)" font-weight="bold" text-anchor="end">(339)</text>
<text transform="matrix(1 0 0 0.99 1064.35 872.00)" font-weight="bold">$</text>
<text transform="matrix(1 0 0 0.99 1179.75 872.00)" font-weight="bold" text-anchor="end">(649)</text>
<text transform="matrix(1 0 0 0.99 1198.35 872.00)" font-weight="bold">$</text>
<text transform="matrix(1 0 0 0.99 1314.75 872.00)" font-weight="bold" text-anchor="end">(616)</text>
<text transform="matrix(1 0 0 0.99 1333.35 872.00)" font-weight="bold">$</text>
<text transform="matrix(1 0 0 0.99 1449.20 872.00)" font-weight="bold" text-anchor="end">(583)</text>
<text transform="matrix(1 0 0 1.015 72.60 902.00)" font-weight="bold">Total Expenditures</text>
<text transform="matrix(1 0 0 0.99 658.85 902.00)" font-weight="bold">$</text>
<text transform="matrix(1 0 0 0.99 769.14 902.00)" font-weight="bold" text-anchor="end">39,030</text>
<text transform="matrix(1 0 0 0.99 795.24 902.00)" font-weight="bold">$</text>
<text transform="matrix(1 0 0 0.99 903.20 902.00)" font-weight="bold" text-anchor="end">40,212</text>
<text transform="matrix(1 0 0 0.99 929.30 902.00)" font-weight="bold">$</text>
<text transform="matrix(1 0 0 0.99 1038.25 902.00)" font-weight="bold" text-anchor="end">41,145</text>
<text transform="matrix(1 0 0 0.99 1064.35 902.00)" font-weight="bold">$</text>
<text transform="matrix(1 0 0 0.99 1172.25 902.00)" font-weight="bold" text-anchor="end">42,038</text>
<text transform="matrix(1 0 0 0.99 1198.35 902.00)" font-weight="bold">$</text>
<text transform="matrix(1 0 0 0.99 1307.25 902.00)" font-weight="bold" text-anchor="end">43,081</text>
<text transform="matrix(1 0 0 0.99 1333.35 902.00)" font-weight="bold">$</text>
<text transform="matrix(1 0 0 0.99 1441.70 902.00)" font-weight="bold" text-anchor="end">44,158</text>
<text transform="matrix(1 0 0 1.015 72.60 932.00)" font-weight="bold" fill="#fff">Operating Surplus (Deficit)</text>
<text transform="matrix(1 0 0 0.99 658.85 932.00)" font-weight="bold" fill="#fff">$</text>
<text transform="matrix(1 0 0 0.99 776.64 932.00)" font-weight="bold" text-anchor="end" fill="#fff">(1,444)</text>
<text transform="matrix(1 0 0 0.99 795.24 932.00)" font-weight="bold" fill="#fff">$</text>
<text transform="matrix(1 0 0 0.99 903.20 932.00)" font-weight="bold" text-anchor="end" fill="#fff">404</text>
<text transform="matrix(1 0 0 0.99 929.30 932.00)" font-weight="bold" fill="#fff">$</text>
<text transform="matrix(1 0 0 0.99 1038.25 932.00)" font-weight="bold" text-anchor="end" fill="#fff">437</text>
<text transform="matrix(1 0 0 0.99 1064.35 932.00)" font-weight="bold" fill="#fff">$</text>
<text transform="matrix(1 0 0 0.99 1172.25 932.00)" font-weight="bold" text-anchor="end" fill="#fff">737</text>
<text transform="matrix(1 0 0 0.99 1198.35 932.00)" font-weight="bold" fill="#fff">$</text>
<text transform="matrix(1 0 0 0.99 1307.25 932.00)" font-weight="bold" text-anchor="end" fill="#fff">916</text>
<text transform="matrix(1 0 0 0.99 1333.35 932.00)" font-weight="bold" fill="#fff">$</text>
<text transform="matrix(1 0 0 0.99 1441.70 932.00)" font-weight="bold" text-anchor="end" fill="#fff">969</text>
<text transform="matrix(1 0 0 1.015 91.20 962.00)" >Interfund Borrowing (Repayment)</text>
<text transform="matrix(1 0 0 0.99 658.85 962.00)" >$</text>
<text transform="matrix(1 0 0 0.99 769.14 962.00)" text-anchor="end">400</text>
<text transform="matrix(1 0 0 0.99 795.24 962.00)" >$</text>
<text transform="matrix(1 0 0 0.99 910.70 962.00)" text-anchor="end">(400)</text>
<text transform="matrix(1 0 0 0.99 929.30 962.00)" >$</text>
<text transform="matrix(1 0 0 0.99 1045.75 962.00)" text-anchor="end">(400)</text>
<text transform="matrix(1 0 0 1.015 72.60 992.00)" font-weight="bold" fill="#fff">Surplus (Deficit) After Interfund Borrowing</text>
<text transform="matrix(1 0 0 0.99 658.85 992.00)" font-weight="bold" fill="#fff">$</text>
<text transform="matrix(1 0 0 0.99 776.64 992.00)" font-weight="bold" text-anchor="end" fill="#fff">(1,044)</text>
<text transform="matrix(1 0 0 0.99 795.24 992.00)" font-weight="bold" fill="#fff">$</text>
<text transform="matrix(1 0 0 0.99 903.20 992.00)" font-weight="bold" text-anchor="end" fill="#fff">4</text>
<text transform="matrix(1 0 0 0.99 929.30 992.00)" font-weight="bold" fill="#fff">$</text>
<text transform="matrix(1 0 0 0.99 1038.25 992.00)" font-weight="bold" text-anchor="end" fill="#fff">37</text>
<text transform="matrix(1 0 0 0.99 1064.35 992.00)" font-weight="bold" fill="#fff">$</text>
<text transform="matrix(1 0 0 0.99 1172.25 992.00)" font-weight="bold" text-anchor="end" fill="#fff">737</text>
<text transform="matrix(1 0 0 0.99 1198.35 992.00)" font-weight="bold" fill="#fff">$</text>
<text transform="matrix(1 0 0 0.99 1307.25 992.00)" font-weight="bold" text-anchor="end" fill="#fff">916</text>
<text transform="matrix(1 0 0 0.99 1333.35 992.00)" font-weight="bold" fill="#fff">$</text>
<text transform="matrix(1 0 0 0.99 1441.70 992.00)" font-weight="bold" text-anchor="end" fill="#fff">969</text>
<text transform="matrix(1 0 0 1.015 72.60 1022.00)" font-weight="bold">Bill Backlog</text>
<text transform="matrix(1 0 0 0.99 658.85 1022.00)" font-weight="bold">$</text>
<text transform="matrix(1 0 0 0.99 776.64 1022.00)" font-weight="bold" text-anchor="end">(7,821)</text>
<text transform="matrix(1 0 0 0.99 795.24 1022.00)" font-weight="bold">$</text>
<text transform="matrix(1 0 0 0.99 910.70 1022.00)" font-weight="bold" text-anchor="end">(7,817)</text>
<text transform="matrix(1 0 0 0.99 929.30 1022.00)" font-weight="bold">$</text>
<text transform="matrix(1 0 0 0.99 1045.75 1022.00)" font-weight="bold" text-anchor="end">(7,780)</text>
<text transform="matrix(1 0 0 0.99 1064.35 1022.00)" font-weight="bold">$</text>
<text transform="matrix(1 0 0 0.99 1179.75 1022.00)" font-weight="bold" text-anchor="end">(7,043)</text>
<text transform="matrix(1 0 0 0.99 1198.35 1022.00)" font-weight="bold">$</text>
<text transform="matrix(1 0 0 0.99 1314.75 1022.00)" font-weight="bold" text-anchor="end">(6,127)</text>
<text transform="matrix(1 0 0 0.99 1333.35 1022.00)" font-weight="bold">$</text>
<text transform="matrix(1 0 0 0.99 1449.20 1022.00)" font-weight="bold" text-anchor="end">(5,158)</text>
<text transform="matrix(1 0 0 1.015 72.60 1052.00)" font-weight="bold">Reserves % of Revenues</text>
<text transform="matrix(1 0 0 0.99 776.64 1052.00)" font-weight="bold" text-anchor="end">-20.8%</text>
<text transform="matrix(1 0 0 0.99 910.70 1052.00)" font-weight="bold" text-anchor="end">-20.6%</text>
<text transform="matrix(1 0 0 0.99 1045.75 1052.00)" font-weight="bold" text-anchor="end">-20.2%</text>
<text transform="matrix(1 0 0 0.99 1179.75 1052.00)" font-weight="bold" text-anchor="end">-17.9%</text>
<text transform="matrix(1 0 0 0.99 1314.75 1052.00)" font-weight="bold" text-anchor="end">-15.1%</text>
<text transform="matrix(1 0 0 0.99 1449.20 1052.00)" font-weight="bold" text-anchor="end">-12.4%</text>
<text transform="matrix(1 0 0 1 71.4 1078)" font-size="19.75">Source: State of Illinois, Governor’s Office of Management and Budget, <tspan font-style="italic">Financial Walk Down (General Funds)</tspan> , November 15, 2018; Civic Federation</text>
<text transform="matrix(1 0 0 1 71.4 1104)" font-size="19.75">Calculations.</text>
<ellipse cx="1064" cy="400.4" rx="433.8" ry="84.2" fill="none" stroke="#ff0000" stroke-width="5.8"/></svg>
</body></html>
